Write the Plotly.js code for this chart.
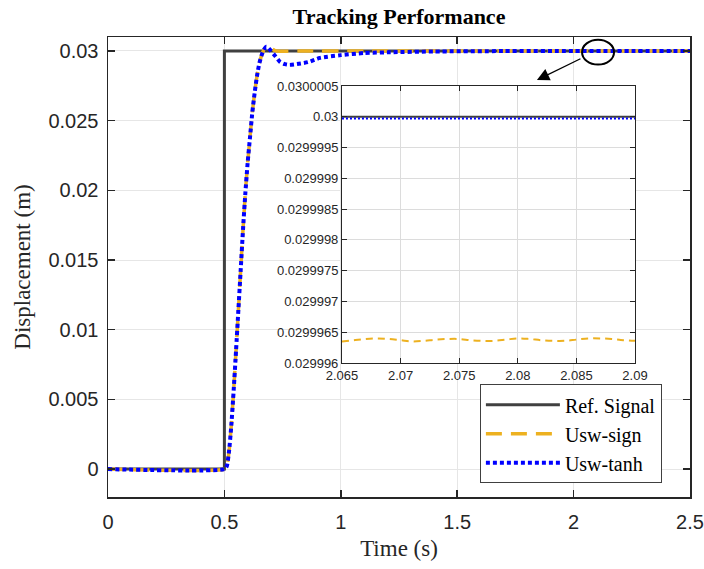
<!DOCTYPE html>
<html>
<head>
<meta charset="utf-8">
<script src="https://cdn.plot.ly/plotly-3.0.1.min.js"></script>
<style>html,body{margin:0;padding:0;background:#fff;}#chart{width:704px;height:569px;}</style>
</head>
<body>
<div id="chart"></div>
<script>
// ---- main response data ----
const refTime = [0, 0.5, 0.5, 2.5];
const refValue = [0, 0, 0.03, 0.03];

const respTime = [0, 0.5, 0.51, 0.52, 0.53, 0.54, 0.55, 0.56, 0.57, 0.58, 0.59, 0.60, 0.61, 0.62, 0.63, 0.64, 0.65, 0.66, 0.67, 0.68, 0.69, 0.70, 0.72, 0.74, 0.76, 0.78, 0.82, 0.86, 0.91, 1.0, 1.1, 1.2, 1.4, 1.7, 2.0, 2.5];
const tanhValue = [0, 0, 0.0002, 0.0013, 0.0032, 0.0057, 0.0085, 0.0114, 0.0143, 0.0172, 0.0198, 0.0220, 0.0238, 0.0256, 0.0270, 0.0282, 0.0291, 0.0297, 0.0301, 0.0303, 0.0302, 0.0300, 0.0296, 0.0292, 0.02905, 0.0290, 0.02908, 0.0292, 0.0295, 0.0297, 0.02985, 0.0299, 0.02996, 0.02999, 0.03, 0.03];
const signValue = [0, 0, 0.0002, 0.0013, 0.0032, 0.0057, 0.0085, 0.0114, 0.0143, 0.0172, 0.0198, 0.0220, 0.0238, 0.0256, 0.0270, 0.0282, 0.0291, 0.0297, 0.0301, 0.0303, 0.0303, 0.0302, 0.0300, 0.02998, 0.02998, 0.02999, 0.03, 0.03, 0.03, 0.03, 0.03, 0.03, 0.03, 0.03, 0.03, 0.03];

// ---- inset (zoomed) data ----
const insetTime = [2.065, 2.066, 2.067, 2.068, 2.069, 2.070, 2.071, 2.072, 2.073, 2.074, 2.075, 2.076, 2.077, 2.078, 2.079, 2.080, 2.081, 2.082, 2.083, 2.084, 2.085, 2.086, 2.087, 2.088, 2.089, 2.090];
const insetRef = [0.03, 0.03, 0.03, 0.03, 0.03, 0.03, 0.03, 0.03, 0.03, 0.03, 0.03, 0.03, 0.03, 0.03, 0.03, 0.03, 0.03, 0.03, 0.03, 0.03, 0.03, 0.03, 0.03, 0.03, 0.03, 0.03];
const insetTanh = [0.02999997, 0.02999997, 0.02999997, 0.02999997, 0.02999997, 0.02999997, 0.02999997, 0.02999997, 0.02999997, 0.02999997, 0.02999997, 0.02999997, 0.02999997, 0.02999997, 0.02999997, 0.02999997, 0.02999997, 0.02999997, 0.02999997, 0.02999997, 0.02999997, 0.02999997, 0.02999997, 0.02999997, 0.02999997, 0.02999997];
const insetSign = [0.02999635, 0.02999637, 0.02999639, 0.02999640, 0.02999639, 0.02999637, 0.02999635, 0.02999636, 0.02999638, 0.02999639, 0.02999639, 0.02999637, 0.02999636, 0.02999636, 0.02999638, 0.02999640, 0.02999639, 0.02999637, 0.02999636, 0.02999636, 0.02999638, 0.02999640, 0.02999640, 0.02999639, 0.02999637, 0.02999636];

// ---- tick labels ----
const mainXTicks = [0, 0.5, 1, 1.5, 2, 2.5];
const mainXText = ['0', '0.5', '1', '1.5', '2', '2.5'];
const mainYTicks = [0, 0.005, 0.01, 0.015, 0.02, 0.025, 0.03];
const mainYText = ['0', '0.005', '0.01', '0.015', '0.02', '0.025', '0.03'];
const insetXTicks = [2.065, 2.07, 2.075, 2.08, 2.085, 2.09];
const insetXText = ['2.065', '2.07', '2.075', '2.08', '2.085', '2.09'];
const insetYTicks = [0.029996, 0.0299965, 0.029997, 0.0299975, 0.029998, 0.0299985, 0.029999, 0.0299995, 0.03, 0.0300005];
const insetYText = ['0.029996', '0.0299965', '0.029997', '0.0299975', '0.029998', '0.0299985', '0.029999', '0.0299995', '0.03', '0.0300005'];

const seriesNames = ['Ref. Signal', 'Usw-sign', 'Usw-tanh'];
const colRef = '#404040', colSign = '#EDB120', colTanh = '#0000FF';

const traces = [
  {x: refTime, y: refValue, name: seriesNames[0], mode: 'lines', line: {color: colRef, width: 3}, xaxis: 'x', yaxis: 'y'},
  {x: respTime, y: signValue, name: seriesNames[1], mode: 'lines', line: {color: colSign, width: 3.5, dash: '16px,9px', shape: 'spline', smoothing: 0.6}, xaxis: 'x', yaxis: 'y'},
  {x: respTime, y: tanhValue, name: seriesNames[2], mode: 'lines', line: {color: colTanh, width: 4, dash: '4px,3px', shape: 'spline', smoothing: 0.6}, xaxis: 'x', yaxis: 'y'},
  {x: insetTime, y: insetRef, name: seriesNames[0], mode: 'lines', line: {color: colRef, width: 2}, xaxis: 'x2', yaxis: 'y2', showlegend: false},
  {x: insetTime, y: insetSign, name: seriesNames[1], mode: 'lines', line: {color: colSign, width: 2, dash: '7px,5px', shape: 'spline'}, xaxis: 'x2', yaxis: 'y2', showlegend: false},
  {x: insetTime, y: insetTanh, name: seriesNames[2], mode: 'lines', line: {color: colTanh, width: 2, dash: '2px,2px'}, xaxis: 'x2', yaxis: 'y2', showlegend: false}
];

const axisCol = '#262626', gridCol = '#e6e6e6';
const layout = {
  width: 704, height: 569,
  margin: {l: 108, r: 14, t: 37, b: 72},
  paper_bgcolor: '#ffffff', plot_bgcolor: '#ffffff',
  showlegend: true,
  title: {text: '<b>Tracking Performance</b>', font: {family: 'Liberation Serif', size: 22, color: '#000'}, xref: 'paper', x: 0.5, yref: 'container', y: 0.972, yanchor: 'middle'},
  xaxis: {
    range: [0, 2.5], tickvals: mainXTicks, ticktext: mainXText,
    ticks: 'inside', ticklen: 7, tickwidth: 1.5, tickcolor: axisCol,
    showline: true, linecolor: axisCol, linewidth: 1.5, mirror: 'ticks',
    showgrid: true, gridcolor: gridCol, gridwidth: 1, zeroline: false,
    tickfont: {family: 'Liberation Sans', size: 20, color: axisCol}, ticklabelstandoff: 6,
    title: {text: 'Time (s)', font: {family: 'Liberation Serif', size: 23, color: axisCol}, standoff: 8}
  },
  yaxis: {
    range: [-0.002, 0.031], tickvals: mainYTicks, ticktext: mainYText,
    ticks: 'inside', ticklen: 7, tickwidth: 1.5, tickcolor: axisCol,
    showline: true, linecolor: axisCol, linewidth: 1.5, mirror: 'ticks',
    showgrid: true, gridcolor: gridCol, gridwidth: 1, zeroline: false,
    tickfont: {family: 'Liberation Sans', size: 20, color: axisCol}, ticklabelstandoff: 4,
    title: {text: 'Displacement (m)', font: {family: 'Liberation Serif', size: 23, color: axisCol}, standoff: 11}
  },
  xaxis2: {
    domain: [0.402, 0.9055], anchor: 'y2',
    range: [2.065, 2.09], tickvals: insetXTicks, ticktext: insetXText,
    ticks: 'inside', ticklen: 5, tickwidth: 1, tickcolor: axisCol,
    showline: true, linecolor: axisCol, linewidth: 1, mirror: 'ticks',
    showgrid: true, gridcolor: '#dcdcdc', gridwidth: 1, zeroline: false,
    tickfont: {family: 'Liberation Sans', size: 13, color: axisCol}
  },
  yaxis2: {
    domain: [0.2913, 0.8935], anchor: 'x2',
    range: [0.029996, 0.0300005], tickvals: insetYTicks, ticktext: insetYText,
    ticks: 'inside', ticklen: 5, tickwidth: 1, tickcolor: axisCol,
    showline: true, linecolor: axisCol, linewidth: 1, mirror: 'ticks',
    showgrid: true, gridcolor: '#dcdcdc', gridwidth: 1, zeroline: false,
    tickfont: {family: 'Liberation Sans', size: 13, color: axisCol}
  },
  legend: {
    x: 0.639, y: 0.245, xanchor: 'left', yanchor: 'top',
    bgcolor: '#ffffff', bordercolor: '#404040', borderwidth: 1,
    font: {family: 'Liberation Serif', size: 20, color: '#000'},
    itemwidth: 74, tracegroupgap: 0
  },
  shapes: [
    {type: 'circle', xref: 'paper', yref: 'paper', x0: 0.8145, x1: 0.8695, y0: 0.94, y1: 0.994, line: {color: '#000', width: 2}}
  ],
  annotations: [
    {xref: 'paper', yref: 'paper', x: 0.737, y: 0.9065, ax: 45, ay: -22, text: '', showarrow: true, arrowhead: 2, arrowsize: 1.9, arrowwidth: 1.3, arrowcolor: '#000'}
  ]
};

Plotly.newPlot('chart', traces, layout, {staticPlot: true, displayModeBar: false});
</script>
</body>
</html>
